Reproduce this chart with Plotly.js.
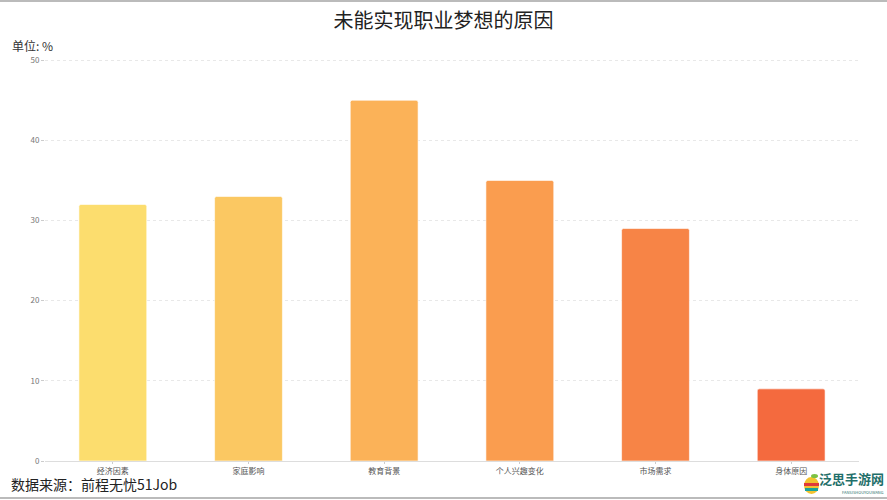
<!DOCTYPE html>
<html>
<head>
<meta charset="utf-8">
<script src="https://cdn.plot.ly/plotly-3.0.1.min.js"></script>
<style>
  html, body { margin: 0; padding: 0; background: #fff; }
  #chart { width: 887px; height: 500px; }
</style>
</head>
<body>
<div id="chart"></div>
<script>
const categories = ["经济因素", "家庭影响", "教育背景", "个人兴趣变化", "市场需求", "身体原因"];
const values = [32, 33, 45, 35, 29, 9];
const barColors = ["#FCDD6E", "#FBC862", "#FBB258", "#FA9D4F", "#F78446", "#F46A3E"];
const yTicks = [0, 10, 20, 30, 40, 50];

const FONT = "Noto Sans CJK SC, Noto Sans, sans-serif";
const PW = 814, PH = 402;
const px = v => (v - 45) / PW;
const py = v => (461 - v) / PH;

const trace = {
  type: "bar",
  x: categories,
  y: values,
  marker: {
    color: barColors,
    line: { color: "rgba(255,255,255,0.6)", width: 1 },
    cornerradius: 2
  },
  hoverinfo: "x+y"
};

const layout = {
  width: 887,
  height: 500,
  margin: { l: 45, r: 28, t: 59, b: 39 },
  paper_bgcolor: "#ffffff",
  plot_bgcolor: "#ffffff",
  bargap: 0.5,
  showlegend: false,
  font: { family: FONT, color: "#555" },
  title: {
    text: "未能实现职业梦想的原因",
    x: 0.5, xanchor: "center",
    y: 0.958, yanchor: "middle",
    font: { family: FONT, size: 20, color: "#222" }
  },
  xaxis: {
    type: "category",
    showgrid: false,
    showline: true,
    linecolor: "#dddddd",
    linewidth: 1,
    ticks: "outside",
    ticklen: 2,
    tickcolor: "#cccccc",
    tickfont: { family: FONT, size: 8, color: "#555" },
    fixedrange: true
  },
  yaxis: {
    range: [0, 50.15],
    tickvals: yTicks,
    showgrid: true,
    gridcolor: "#e8e8e8",
    griddash: "dot",
    gridwidth: 1,
    zeroline: false,
    showline: false,
    ticks: "outside",
    ticklen: 3,
    tickcolor: "#cccccc",
    tickfont: { family: FONT, size: 8, color: "#777" },
    fixedrange: true
  },
  annotations: [
    {
      text: "单位: %", xref: "paper", yref: "paper",
      x: px(0), y: py(45), xanchor: "left", yanchor: "middle",
      xshift: 10, showarrow: false,
      font: { family: FONT, size: 12, color: "#333" }
    },
    {
      text: "数据来源：前程无忧51Job", xref: "paper", yref: "paper",
      x: px(0), y: py(484), xanchor: "left", yanchor: "middle",
      xshift: 9, showarrow: false,
      font: { family: FONT, size: 14, color: "#222" }
    },
    {
      text: "<b>泛思手游网</b>", xref: "paper", yref: "paper",
      x: px(886), y: py(478), xanchor: "right", yanchor: "middle",
      showarrow: false,
      font: { family: FONT, size: 13, color: "#1f6f6a" }
    },
    {
      text: "FANSISHOUYOUWANG", xref: "paper", yref: "paper",
      x: px(886), y: py(492), xanchor: "right", yanchor: "middle",
      showarrow: false,
      font: { family: FONT, size: 4, color: "#1f6f6a" }
    }
  ],
  shapes: [
    { type: "line", xref: "paper", yref: "paper", x0: px(0), x1: px(887), y0: py(1), y1: py(1), line: { color: "#bbbbbb", width: 2 } },
    { type: "line", xref: "paper", yref: "paper", x0: px(0), x1: px(887), y0: py(498), y1: py(498), line: { color: "#bbbbbb", width: 2 } },
    { type: "circle", xref: "paper", yref: "paper", x0: px(804), x1: px(819), y0: py(494), y1: py(477), fillcolor: "#f2c230", line: { width: 0 } },
    { type: "rect", xref: "paper", yref: "paper", x0: px(804), x1: px(819), y0: py(486), y1: py(483), fillcolor: "#e03a3a", line: { width: 0 } },
    { type: "rect", xref: "paper", yref: "paper", x0: px(805), x1: px(818), y0: py(491), y1: py(488), fillcolor: "#1aa39a", line: { width: 0 } },
    { type: "circle", xref: "paper", yref: "paper", x0: px(811), x1: px(818), y0: py(478), y1: py(474), fillcolor: "#7cc243", line: { width: 0 } }
  ]
};

Plotly.newPlot("chart", [trace], layout, { displayModeBar: false, staticPlot: true });
</script>
</body>
</html>
